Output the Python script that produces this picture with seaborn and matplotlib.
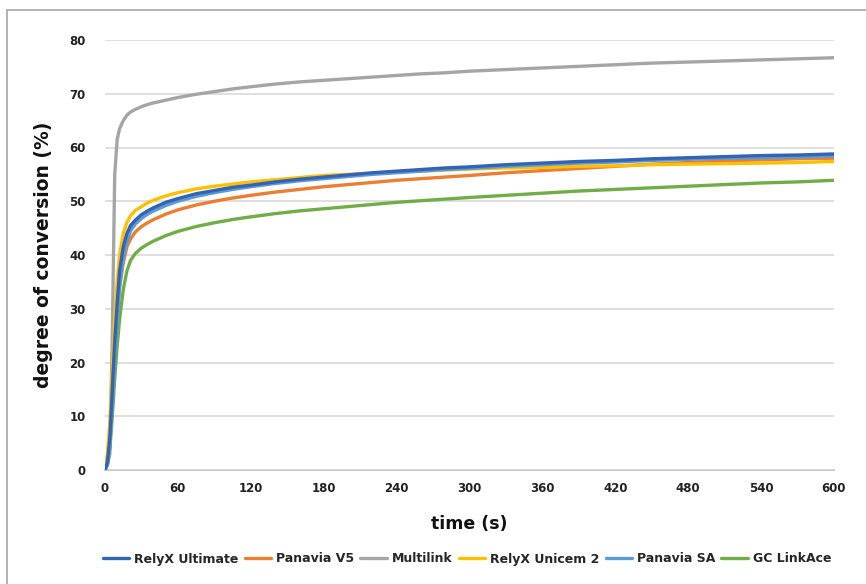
import numpy as np
import pandas as pd
import matplotlib
matplotlib.use("Agg")
import matplotlib.pyplot as plt
import seaborn as sns
from matplotlib.lines import Line2D

# ---------------- data ----------------
time_s = [0, 2, 4, 6, 8, 10, 12, 15, 18, 21, 25, 30, 35, 40, 50, 60, 75, 90, 105, 120,
          140, 160, 180, 200, 220, 240, 260, 280, 300, 330, 360, 390, 420, 450, 480,
          510, 540, 570, 600]

relyx_ultimate = [0, 1.5, 6, 15, 24, 31, 37, 41.5, 44, 45.5, 46.5, 47.5, 48.2, 48.8, 49.8,
                  50.5, 51.4, 52.0, 52.6, 53.0, 53.6, 54.1, 54.5, 54.9, 55.3, 55.6, 55.9,
                  56.2, 56.4, 56.8, 57.1, 57.4, 57.6, 57.9, 58.1, 58.3, 58.5, 58.6, 58.8]
panavia_v5 = [0, 2, 7, 15, 23, 29, 34, 38.5, 41.5, 43, 44.3, 45.3, 46, 46.6, 47.6,
              48.4, 49.3, 50.0, 50.6, 51.1, 51.7, 52.2, 52.7, 53.1, 53.5, 53.9, 54.2,
              54.5, 54.8, 55.3, 55.7, 56.1, 56.5, 56.9, 57.2, 57.5, 57.7, 57.9, 58.0]
multilink = [0, 1, 3, 25, 55, 61.5, 63.5, 65, 66, 66.6, 67.1, 67.6, 68, 68.3, 68.8,
             69.3, 69.9, 70.4, 70.9, 71.3, 71.8, 72.2, 72.5, 72.8, 73.1, 73.4, 73.7,
             73.9, 74.2, 74.5, 74.8, 75.1, 75.4, 75.7, 75.9, 76.1, 76.3, 76.5, 76.7]
relyx_unicem2 = [0, 3, 9, 19, 28, 35, 40, 44, 46, 47.3, 48.3, 49, 49.7, 50.2, 51,
                 51.6, 52.3, 52.8, 53.2, 53.6, 54.0, 54.4, 54.8, 55.0, 55.2, 55.5, 55.6,
                 55.8, 56.0, 56.2, 56.3, 56.5, 56.6, 56.8, 56.9, 57.0, 57.1, 57.2, 57.4]
panavia_sa = [0, 1, 4.5, 12, 21, 28, 34, 39.5, 42.5, 44.5, 45.8, 46.8, 47.6, 48.2, 49.2,
              50.0, 50.9, 51.6, 52.2, 52.7, 53.3, 53.8, 54.2, 54.6, 55.0, 55.3, 55.6,
              55.9, 56.1, 56.5, 56.8, 57.1, 57.3, 57.6, 57.8, 58.0, 58.1, 58.2, 58.4]
gc_linkace = [0, 1, 4, 10, 17, 23, 28, 33.5, 37, 39, 40.3, 41.3, 42, 42.6, 43.6,
              44.4, 45.3, 46.0, 46.6, 47.1, 47.7, 48.2, 48.6, 49.0, 49.4, 49.8, 50.1,
              50.4, 50.7, 51.1, 51.5, 51.9, 52.2, 52.5, 52.8, 53.1, 53.4, 53.6, 53.9]

series_names = ["RelyX Ultimate", "Panavia V5", "Multilink", "RelyX Unicem 2",
                "Panavia SA", "GC LinkAce"]
series_values = [relyx_ultimate, panavia_v5, multilink, relyx_unicem2, panavia_sa, gc_linkace]
colors = ["#3563B3", "#ED7D31", "#A5A5A5", "#FFC000", "#5B9BD5", "#70AD47"]

x_ticks = [0, 60, 120, 180, 240, 300, 360, 420, 480, 540, 600]
y_ticks = [0, 10, 20, 30, 40, 50, 60, 70, 80]

# ---------------- build long table ----------------
rows = []
for name, vals in zip(series_names, series_values):
    for t, v in zip(time_s, vals):
        rows.append({"time": t, "doc": v, "series": name})
df = pd.DataFrame(rows)

# ---------------- plot ----------------
sns.set_theme(style="white")
plt.rcParams["font.family"] = ["DejaVu Sans"]

fig = plt.figure(figsize=(8.66, 5.84), dpi=100)
ax = fig.add_axes([105 / 866, 1 - 470 / 584, (834 - 105) / 866, (470 - 40) / 584])

palette = dict(zip(series_names, colors))
draw_order = ["Multilink", "GC LinkAce", "Panavia V5", "RelyX Unicem 2", "Panavia SA", "RelyX Ultimate"]
for name in draw_order:
    sub = df[df["series"] == name]
    sns.lineplot(data=sub, x="time", y="doc", color=palette[name], linewidth=2.4,
                 ax=ax, estimator=None, sort=False, legend=False)

ax.set_xlim(0, 600)
ax.set_ylim(0, 80)
ax.set_xticks(x_ticks)
ax.set_yticks(y_ticks)
ax.set_xticklabels([str(v) for v in x_ticks], fontsize=8.5, fontweight="bold", color="#222222")
ax.set_yticklabels([str(v) for v in y_ticks], fontsize=8.5, fontweight="bold", color="#222222")
ax.tick_params(axis="both", length=0)
ax.tick_params(axis="x", pad=9)
ax.tick_params(axis="y", pad=14)

ax.grid(axis="y", color="#DCDCDC", linewidth=1.3)
ax.grid(axis="x", visible=False)
ax.set_axisbelow(True)
for s in ["top", "right", "left"]:
    ax.spines[s].set_visible(False)
ax.spines["bottom"].set_color("#BFBFBF")
ax.spines["bottom"].set_linewidth(1.3)
ax.spines["bottom"].set_zorder(0.5)

ax.set_xlabel("time (s)", fontsize=12.5, fontweight="bold", color="#111111", labelpad=14)
ax.set_ylabel("degree of conversion (%)", fontsize=13.5, fontweight="bold", color="#111111", labelpad=12)

handles = [Line2D([0], [0], color=c, linewidth=2.4) for c in colors]
fig.legend(handles, series_names, loc="center", bbox_to_anchor=(467 / 866, 1 - 559 / 584),
           ncol=6, frameon=False, handlelength=2.1, handletextpad=0.4,
           columnspacing=0.5, prop={"weight": "semibold", "size": 9})

# outer frame (gray border visible on the left and top)
fig.add_artist(Line2D([6.5 / 866, 6.5 / 866], [0, 1 - 10 / 584], transform=fig.transFigure,
                      color="#A6A6A6", linewidth=1.2))
fig.add_artist(Line2D([6.5 / 866, 1], [1 - 10 / 584, 1 - 10 / 584], transform=fig.transFigure,
                      color="#A6A6A6", linewidth=1.2))

fig.savefig("out.png", dpi=100, facecolor="white")
